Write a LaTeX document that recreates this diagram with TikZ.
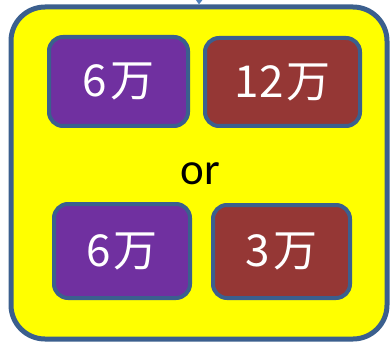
\documentclass[tikz,border=0pt]{standalone}
\usepackage{xcolor}
\usepackage{fontspec}
\usepackage{tikz}
\usetikzlibrary{
  arrows.meta,
  positioning
}
\newfontfamily\cjkfont{Noto Sans CJK SC}
\setmainfont{Carlito}
\definecolor{wnYellow}{HTML}{FFFF00}
\definecolor{wnEdge}{HTML}{3B5F8E}
\definecolor{wnPurple}{HTML}{7030A0}
\definecolor{wnRed}{HTML}{953735}
\definecolor{wnArrow}{HTML}{4F81BD}
\newcommand{\wan}{\kern3pt万}
\tikzset{
  wnframe/.style={
    draw=wnEdge, fill=wnYellow, line width=5pt, rounded corners=34pt
  },
  wnbox/.style={
    draw=wnEdge, line width=4pt, rounded corners=14pt, text=white,
    font=\cjkfont\fontsize{44}{46}\selectfont, inner sep=0pt
  },
  lowbox/.style={wnbox, fill=wnPurple},
  highbox/.style={wnbox, fill=wnRed},
  wnlink/.style={-{Triangle[length=8pt, width=11pt]}, line width=2pt, wnArrow}
}

\begin{document}
\begin{tikzpicture}[x=1pt, y=1pt]
  \clip (0,0) rectangle (390,343);
  \useasboundingbox (0,0) rectangle (390,343);
  \node[wnframe, minimum width=376pt, minimum height=332pt] (frame) at (199,170) {};
  \coordinate (src) at (200,380);
  \draw[wnlink] (src) -- (frame.north);
  \node[lowbox, minimum width=139pt, minimum height=89pt] (a) at (118.5,261.5) {6\wan};
  \node[highbox, minimum width=155pt, minimum height=88pt] (b) at (282.5,261) {12\wan};
  \node[font=\fontsize{45}{47}\selectfont, inner sep=0pt] (or) at (200,169) {or};
  \node[lowbox, minimum width=136pt, minimum height=94pt] (c) at (122,92) {6\wan};
  \node[highbox, minimum width=137pt, minimum height=93pt] (d) at (281.5,91.5) {3\wan};
\end{tikzpicture}
\end{document}
